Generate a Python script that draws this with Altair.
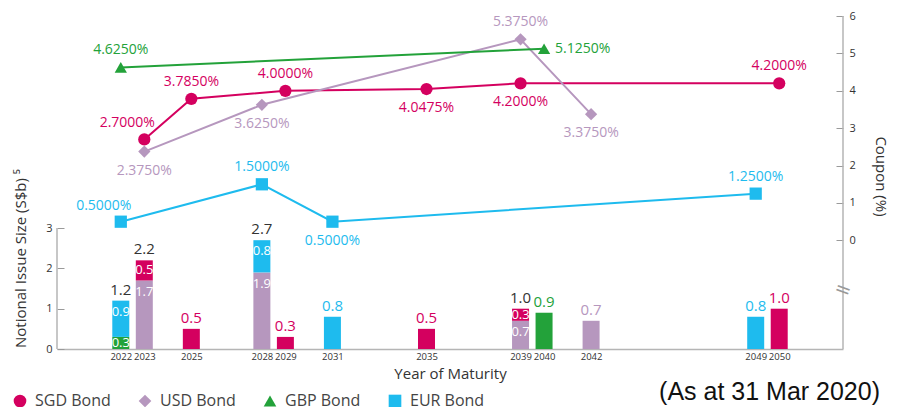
import altair as alt
import pandas as pd
import numpy as np

# ---------------- data ----------------
series_names = ["SGD Bond", "USD Bond", "GBP Bond", "EUR Bond"]
series_colors = ["#d4005f", "#b697be", "#23a23a", "#1ebbee"]
series_shapes = ["circle", "diamond", "triangle-up", "square"]
stack_order = ["GBP Bond", "USD Bond", "SGD Bond", "EUR Bond"]

# coupons (%)
sgd_years = [2023, 2025, 2029, 2035, 2039, 2050]
sgd_coupon = [2.7, 3.785, 4.0, 4.0475, 4.2, 4.2]
usd_years = [2023, 2028, 2039, 2042]
usd_coupon = [2.375, 3.625, 5.375, 3.375]
gbp_years = [2022, 2040]
gbp_coupon = [4.625, 5.125]
eur_years = [2022, 2028, 2031, 2049]
eur_coupon = [0.5, 1.5, 0.5, 1.25]

# where each coupon label sits relative to its point
sgd_place = ["upleft", "up", "up", "down", "down", "up"]
usd_place = ["down", "down", "up", "down"]
gbp_place = ["up", "right"]
eur_place = ["upleft", "up", "down", "up"]

# notional issue size (S$b)
bar_years = [2022, 2022, 2023, 2023, 2025, 2028, 2028, 2029, 2031, 2035,
             2039, 2039, 2040, 2042, 2049, 2050]
bar_series = ["GBP Bond", "EUR Bond", "USD Bond", "SGD Bond", "SGD Bond",
              "USD Bond", "EUR Bond", "SGD Bond", "EUR Bond", "SGD Bond",
              "USD Bond", "SGD Bond", "GBP Bond", "USD Bond", "EUR Bond", "SGD Bond"]
bar_values = [0.3, 0.9, 1.7, 0.5, 0.5, 1.9, 0.8, 0.3, 0.8, 0.5,
              0.7, 0.3, 0.9, 0.7, 0.8, 1.0]

tick_years = [2022, 2023, 2025, 2028, 2029, 2031, 2035, 2039, 2040, 2042, 2049, 2050]
left_ticks = [0, 1, 2, 3]
right_ticks = [0, 1, 2, 3, 4, 5, 6]

# ---------------- tables ----------------
rows = []
for name, yrs, cps, pls in [
    ("SGD Bond", sgd_years, sgd_coupon, sgd_place),
    ("USD Bond", usd_years, usd_coupon, usd_place),
    ("GBP Bond", gbp_years, gbp_coupon, gbp_place),
    ("EUR Bond", eur_years, eur_coupon, eur_place),
]:
    for y, c, p in zip(yrs, cps, pls):
        rows.append({"series": name, "year": y, "coupon": c, "place": p,
                     "label": f"{c:.4f}%"})
coupon_df = pd.DataFrame(rows)

bar_df = pd.DataFrame({"year": bar_years, "series": bar_series, "value": bar_values})
bar_df["order"] = bar_df["series"].map({s: i for i, s in enumerate(stack_order)})
bar_df = bar_df.sort_values(["year", "order"]).reset_index(drop=True)
bar_df["y1"] = bar_df.groupby("year")["value"].cumsum()
bar_df["y0"] = bar_df["y1"] - bar_df["value"]
bar_df["n"] = bar_df.groupby("year")["value"].transform("size")
bar_df["label"] = bar_df["value"].map(lambda v: f"{v:.1f}")
bar_df["label_y"] = np.maximum((bar_df["y0"] + bar_df["y1"]) / 2, bar_df["y1"] - 0.28)
stacked_df = bar_df[bar_df["n"] > 1]
single_df = bar_df[bar_df["n"] == 1]
totals_df = stacked_df.groupby("year", as_index=False)["value"].sum()
totals_df["label"] = totals_df["value"].map(lambda v: f"{v:.1f}")

# ---------------- scales / axes ----------------
FONT = "Open Sans"
XS = alt.Scale(domain=[2019.5, 2052.5], nice=False, zero=False)
YL = alt.Scale(domain=[0, 8.263], nice=False, zero=False)
YR = alt.Scale(domain=[-2.904, 6], nice=False, zero=False)
CS = alt.Scale(domain=series_names, range=series_colors)
SS = alt.Scale(domain=series_names, range=series_shapes)

LEG = alt.Legend(
    title=None, orient="none", legendX=-45, legendY=377, direction="horizontal",
    symbolSize=160, labelFontSize=16, labelFont=FONT, labelColor="#444",
    columnPadding=26, labelOffset=7, symbolStrokeWidth=0, padding=0)

XAX = alt.Axis(values=tick_years, format="d", ticks=False, grid=False,
               labelOverlap=False, labelFlush=False, labelFontSize=9.5,
               labelColor="#333", labelPadding=2, labelFont=FONT,
               domainColor="#b5b5b5", domainWidth=1.5,
               title="Year of Maturity", titleFontSize=15, titleFontWeight="normal",
               titleColor="#333", titlePadding=6, titleFont=FONT)
YLAX = alt.Axis(values=left_ticks, orient="left", offset=-7, tickSize=7,
                tickColor="#9a9a9a", domain=False, grid=False, labelFontSize=11,
                labelColor="#333", labelPadding=5, labelFont=FONT,
                title="Notional Issue Size (S$b) \u2075", titleFontSize=15,
                titleFontWeight="normal", titleColor="#333", titleFont=FONT,
                titleX=-44, titleY=242, titleAngle=270, titleAlign="center",
                titleBaseline="middle")
YRAX = alt.Axis(values=right_ticks, orient="right", offset=-7, tickSize=7,
                tickColor="#9a9a9a", domain=False, grid=False, labelFontSize=11,
                labelColor="#333", labelPadding=6, labelFont=FONT,
                title="Coupon (%)", titleFontSize=15, titleFontWeight="normal",
                titleColor="#333", titleFont=FONT, titleX=44, titleY=160,
                titleAngle=90, titleAlign="center", titleBaseline="middle")

X_ENC = alt.X("year:Q", scale=XS, axis=XAX)
C_ENC = alt.Color("series:N", scale=CS, legend=LEG)

# ---------------- bar sub-layer ----------------
bars = alt.Chart(bar_df).mark_bar(size=17).encode(
    x=X_ENC,
    y=alt.Y("y0:Q", scale=YL, axis=YLAX),
    y2="y1:Q",
    color=C_ENC,
)
inside_labels = alt.Chart(stacked_df).mark_text(
    font=FONT, fontSize=13, color="white", baseline="middle"
).encode(x=X_ENC, y=alt.Y("label_y:Q", scale=YL, axis=YLAX), text="label:N")
single_labels = alt.Chart(single_df).mark_text(
    font=FONT, fontSize=15, baseline="middle", dy=-11
).encode(x=X_ENC, y=alt.Y("y1:Q", scale=YL, axis=YLAX), text="label:N", color=C_ENC)
total_labels = alt.Chart(totals_df).mark_text(
    font=FONT, fontSize=15, baseline="middle", dy=-11, color="#333"
).encode(x=X_ENC, y=alt.Y("value:Q", scale=YL, axis=YLAX), text="label:N")
left_domain = alt.Chart(pd.DataFrame({"a": [left_ticks[0]], "b": [left_ticks[-1]]})).mark_rule(
    color="#b5b5b5", strokeWidth=1.5
).encode(x=alt.value(0), y=alt.Y("a:Q", scale=YL, axis=YLAX), y2="b:Q")

bar_layer = alt.layer(bars, inside_labels, single_labels, total_labels, left_domain)

# ---------------- coupon sub-layer ----------------
Y_R = alt.Y("coupon:Q", scale=YR, axis=YRAX)
lines = alt.Chart(coupon_df).mark_line(strokeWidth=2).encode(
    x=X_ENC, y=Y_R, color=C_ENC, detail="series:N", order="year:Q"
)
points = alt.Chart(coupon_df).mark_point(filled=True, opacity=1, size=150).encode(
    x=X_ENC, y=Y_R,
    color=C_ENC,
    shape=alt.Shape("series:N", scale=SS, legend=LEG),
)

def place_layer(place, **kw):
    return alt.Chart(coupon_df).transform_filter(
        alt.datum.place == place
    ).mark_text(font=FONT, fontSize=14, baseline="middle", **kw).encode(
        x=X_ENC, y=Y_R, text="label:N", color=C_ENC
    )

lab_up = place_layer("up", dy=-17)
lab_down = place_layer("down", dy=19)
lab_upleft = place_layer("upleft", dx=-17, dy=-16)
lab_right = place_layer("right", align="left", dx=11)

right_domain = alt.Chart(pd.DataFrame({"a": [0]})).mark_rule(
    color="#b5b5b5", strokeWidth=1.5
).encode(x=alt.value(786), y=alt.value(0), y2=alt.value(333))
axis_break = alt.Chart(pd.DataFrame({"t": ["="]})).mark_text(
    font="DejaVu Sans", fontSize=20, color="#999", angle=20, baseline="middle"
).encode(text="t:N", x=alt.value(786), y=alt.value(274))
note = alt.Chart(pd.DataFrame({"t": ["(As at 31 Mar 2020)"]})).mark_text(
    font="Liberation Sans", fontSize=25, color="#111", align="right", baseline="middle"
).encode(text="t:N", x=alt.value(823), y=alt.value(376))

coupon_layer = alt.layer(lines, points, lab_up, lab_down, lab_upleft, lab_right,
                         right_domain, axis_break, note)

chart = alt.layer(bar_layer, coupon_layer).resolve_scale(y="independent").properties(
    width=786, height=333, autosize="none",
    padding={"left": 57, "top": 16, "right": 55, "bottom": 58},
    background="white",
).configure_view(stroke=None)

chart.save("out.html", embed_options={"renderer": "svg", "actions": False})
